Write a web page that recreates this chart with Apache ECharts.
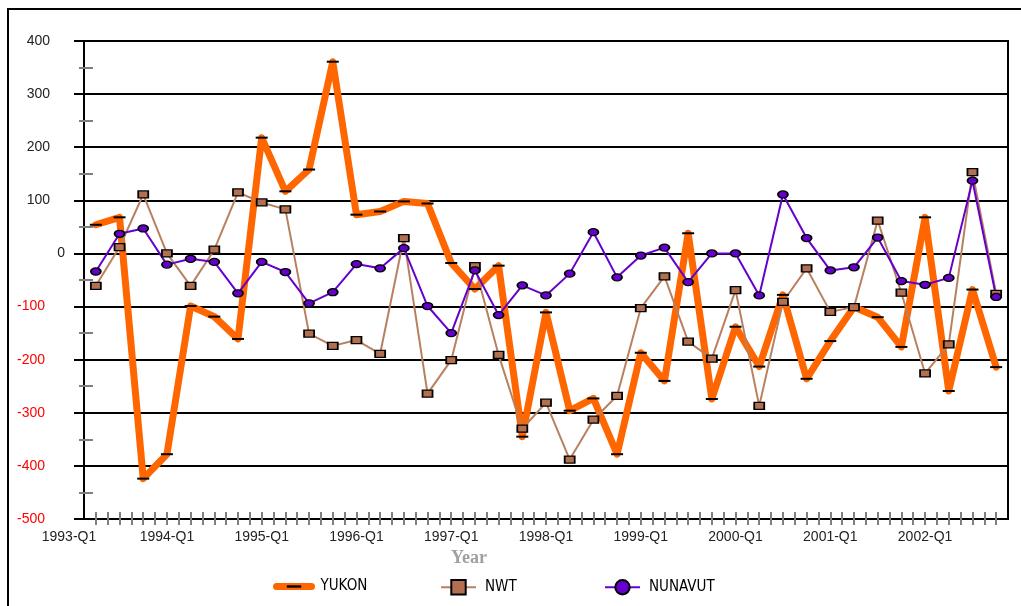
<!DOCTYPE html>
<html>
<head>
<meta charset="utf-8">
<title>YUKON / NWT / NUNAVUT</title>
<script src="https://cdn.jsdelivr.net/npm/echarts@6/dist/echarts.min.js"></script>
<style>
  html, body { margin: 0; padding: 0; background: #fff; }
  #chart { width: 1021px; height: 606px; }
</style>
</head>
<body>
<div id="chart"></div>
<script>
// x = quarter number, 1993-Q1 = 0 ; data runs 1993-Q2 (1) .. 2002-Q4 (39)
var tickLabels = ['1993-Q1', '1994-Q1', '1995-Q1', '1996-Q1', '1997-Q1',
                  '1998-Q1', '1999-Q1', '2000-Q1', '2001-Q1', '2002-Q1'];

var yukon = [54, 68, -424, -378, -99, -119, -161, 218, 117, 158,
             361, 73, 79, 98, 94, -18, -67, -23, -345, -111,
             -296, -273, -378, -187, -240, 38, -274, -138, -213, -78,
             -236, -165, -101, -120, -176, 68, -259, -68, -214];

var nwt = [-61, 12, 111, 0, -61, 7, 115, 96, 83, -151,
           -174, -163, -189, 29, -264, -201, -24, -191, -330, -281,
           -388, -313, -268, -103, -43, -166, -198, -69, -287, -91,
           -28, -110, -101, 62, -74, -226, -171, 153, -76];

var nunavut = [-34, 37, 47, -21, -10, -16, -75, -16, -35, -94,
               -73, -20, -28, 10, -99, -150, -32, -116, -60, -79,
               -38, 40, -45, -4, 11, -54, 0, 0, -79, 111,
               29, -32, -26, 30, -52, -59, -46, 137, -82];

var yMin = -500, yMax = 400, yStep = 100;

function pairs(arr) {
  return arr.map(function (v, i) { return [i + 1, v]; });
}

// ticks every half quarter, between 1 and 39
var halfTicks = [];
for (var t = 1; t <= 39; t += 0.5) halfTicks.push(t);

var FONT = "'Liberation Sans', Arial, sans-serif";
var NARROW = "'Liberation Sans Narrow', 'DejaVu Sans Condensed', 'Liberation Sans', sans-serif";

var myChart = echarts.init(document.getElementById('chart'));

var option = {
  animation: false,
  backgroundColor: '#fff',
  graphic: [{
    type: 'polyline',
    shape: { points: [[8, 606], [8, 9], [1021, 9]] },
    style: { stroke: '#000', lineWidth: 2, fill: null }
  }],
  grid: {
    left: 84, right: 13, top: 41, bottom: 87,
    show: true, borderColor: '#000', borderWidth: 2
  },
  legend: [
    { data: ['YUKON'], left: 268, top: 574 },
    { data: ['NWT'], left: 435, top: 574 },
    { data: ['NUNAVUT'], left: 599, top: 574 }
  ].map(function (l) {
    l.itemWidth = 35;
    l.itemHeight = 18;
    l.itemGap = 0;
    l.lineStyle = { width: 'inherit' };
    l.textStyle = { fontFamily: NARROW, fontSize: 15, color: '#000', padding: [0, 0, 0, 4] };
    return l;
  }),
  xAxis: [{
    type: 'value',
    min: 0.5, max: 39.5, interval: 0.5,
    name: 'Year',
    nameLocation: 'middle',
    nameGap: 28,
    nameTextStyle: {
      color: '#a0a0a0', fontFamily: "'Liberation Serif', serif",
      fontWeight: 'bold', fontSize: 18, padding: [0, 154, 0, 0]
    },
    axisLine: { onZero: false, lineStyle: { color: '#000', width: 2 } },
    axisTick: { length: 6, customValues: halfTicks, lineStyle: { color: '#808080', width: 2 } },
    splitLine: { show: false },
    axisLabel: {
      margin: 11,
      fontFamily: FONT, fontSize: 14, color: '#222',
      formatter: function (v) {
        if (v === 0.5) return '{first|' + tickLabels[0] + '}';
        if (v % 4 === 0) return tickLabels[v / 4] || '';
        return '';
      },
      rich: {
        first: { fontFamily: FONT, fontSize: 14, color: '#222', padding: [0, 30, 0, 0] }
      }
    }
  }, {
    // inner half of the crossing x ticks
    type: 'value',
    min: 0.5, max: 39.5, interval: 0.5,
    position: 'bottom',
    axisLine: { show: false, onZero: false },
    axisLabel: { show: false },
    splitLine: { show: false },
    axisTick: { inside: true, length: 7, customValues: halfTicks, lineStyle: { color: '#808080', width: 2 } }
  }],
  yAxis: [{
    type: 'value',
    min: yMin, max: yMax, interval: yStep,
    axisLine: { show: true, onZero: false, lineStyle: { color: '#000', width: 2 } },
    axisTick: { show: true, length: 10, lineStyle: { color: '#000', width: 2 } },
    minorTick: { show: true, splitNumber: 2, length: 5, lineStyle: { color: '#808080', width: 2 } },
    splitLine: { lineStyle: { color: '#000', width: 2 } },
    axisLabel: {
      margin: 19,
      fontFamily: FONT, fontSize: 14, color: '#222',
      formatter: function (v) {
        if (v < 0) return '{neg|' + v + '}';
        if (v > 0) return '{pos|' + v + '}';
        return '{zero|0}';
      },
      rich: {
        neg: { fontFamily: FONT, fontSize: 14, color: '#ff0000', padding: [0, 20, 0, 0] },
        pos: { fontFamily: FONT, fontSize: 14, color: '#222', padding: [0, 15, 0, 0] },
        zero: { fontFamily: FONT, fontSize: 14, color: '#222' }
      }
    }
  }, {
    // inner half of the grey minor ticks
    type: 'value',
    min: yMin, max: yMax, interval: yStep,
    position: 'left',
    axisLine: { show: false, onZero: false },
    axisLabel: { show: false },
    splitLine: { show: false },
    axisTick: { show: false, inside: true },
    minorTick: { show: true, splitNumber: 2, length: 9, lineStyle: { color: '#808080', width: 2 } }
  }],
  series: [{
    name: 'YUKON',
    type: 'line',
    data: pairs(yukon),
    symbol: 'path://M0,0 M12,12 M0,5 L12,5 L12,7 L0,7 Z',
    symbolSize: 12,
    showAllSymbol: true,
    itemStyle: { color: '#000', borderWidth: 0 },
    lineStyle: { color: '#ff6600', width: 7, join: 'round', cap: 'round' }
  }, {
    name: 'NWT',
    type: 'line',
    data: pairs(nwt),
    symbol: 'rect',
    symbolSize: [10, 7],
    showAllSymbol: true,
    itemStyle: { color: '#b27050', borderColor: '#000', borderWidth: 1.5 },
    lineStyle: { color: '#b98060', width: 2 }
  }, {
    name: 'NUNAVUT',
    type: 'line',
    data: pairs(nunavut),
    symbol: 'path://M0,5 A10,5 0 1,1 20,5 A10,5 0 1,1 0,5 Z',
    symbolSize: [10, 7],
    showAllSymbol: true,
    itemStyle: { color: '#6600cc', borderColor: '#000', borderWidth: 1.5 },
    lineStyle: { color: '#6600cc', width: 2 }
  }]
};

myChart.setOption(option);
</script>
</body>
</html>
